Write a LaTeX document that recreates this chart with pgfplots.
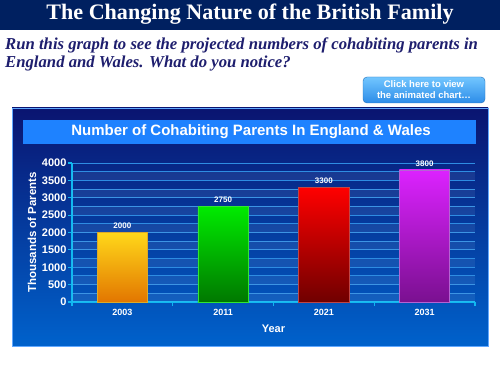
\documentclass[border=0pt]{standalone}
\usepackage{pgfplots}
\pgfplotsset{compat=1.18}
\usepackage{fontspec}
\setmainfont{Liberation Serif}
\setsansfont{Liberation Sans}
\definecolor{navytop}{HTML}{002060}
\definecolor{subcol}{HTML}{1E1E6E}
\definecolor{paneltop}{HTML}{0A1470}
\definecolor{panelbot}{HTML}{0062CC}
\definecolor{inbar}{HTML}{1E82FF}
\definecolor{axcyan}{HTML}{10B8F0}
\definecolor{gridc}{HTML}{2E8CE2}
\definecolor{btntop}{HTML}{72C6FF}
\definecolor{btnbot}{HTML}{2C8CE8}
\begin{document}
\begin{tikzpicture}[x=1pt,y=1pt]
\useasboundingbox (0,0) rectangle (500,375);
\fill[white] (0,0) rectangle (500,375);
% page title bar
\fill[navytop] (0,345) rectangle (500,375);
\node[white,font=\fontsize{22.1}{26}\selectfont\bfseries] at (250,360.5) {The Changing Nature of the British Family};
% subtitle
\node[anchor=north west,inner sep=0pt,align=left,text=subcol,font=\fontsize{16.7}{18.5}\selectfont\bfseries\itshape] at (5,337.5) {Run this graph to see the projected numbers of cohabiting parents in\\England and Wales. What do you notice?};
% button
\shade[top color=btntop,bottom color=btnbot,rounded corners=4pt,draw=btnbot!80!black,line width=0.4pt] (363,272) rectangle (485,298);
\node[white,align=center,font=\sffamily\bfseries\fontsize{9.5}{11}\selectfont] at (424,285) {Click here to view\\the animated chart\dots};
% panel
\shade[top color=paneltop,bottom color=panelbot] (12,29) rectangle (488,267);
\draw[inbar!70!white,line width=0.6pt] (12,29) rectangle (488,267);
\fill[inbar] (23,231) rectangle (476,255);
\node[white,font=\sffamily\bfseries\fontsize{15}{17}\selectfont] at (251,243) {Number of Cohabiting Parents In England \& Wales};
\begin{axis}[
  at={(72pt,73pt)}, anchor=south west,
  width=403pt, height=139pt, scale only axis,
  xmin=-0.5, xmax=3.5, ymin=0, ymax=4000,
  axis lines*=left,
  axis line style={axcyan,line width=1.2pt,-},
  tick align=outside,
  xtick={0,1,2,3},
  xticklabels={2003,2011,2021,2031},
  xtick style={draw=none},
  extra x ticks={-0.5,0.5,1.5,2.5,3.5},
  extra x tick labels={},
  extra x tick style={xtick style={draw=axcyan,line width=1.2pt}},
  ytick={0,500,...,4000},
  ytick style={draw=axcyan,line width=1.2pt},
  major tick length=4pt,
  minor y tick num=1,
  minor tick length=0pt,
  ymajorgrids, yminorgrids,
  major grid style={gridc,line width=0.9pt},
  minor grid style={gridc,line width=0.9pt},
  /pgf/number format/1000 sep={},
  /pgf/number format/assume math mode=true,
  yticklabel style={white,font=\sffamily\bfseries\fontsize{11}{13}\selectfont,xshift=2pt},
  xticklabel style={white,font=\sffamily\bfseries\fontsize{9}{11}\selectfont},
  xlabel={Year},
  ylabel={Thousands of Parents},
  xlabel style={white,font=\sffamily\bfseries\fontsize{11}{13}\selectfont,yshift=6pt},
  ylabel style={white,font=\sffamily\bfseries\fontsize{11.5}{13}\selectfont,yshift=-1pt},
  nodes near coords,
  every node near coord/.append style={white,font=\sffamily\bfseries\fontsize{8}{9}\selectfont},
]
\pgfplotsinvokeforeach{0,...,7}{
  \fill[white,opacity=0.07] (axis cs:-0.5,{#1*500}) rectangle (axis cs:3.5,{#1*500+250});
}
\addplot[ybar,bar width=0.5,bar shift=0pt,top color={rgb,255:red,255;green,216;blue,26},bottom color={rgb,255:red,226;green,118;blue,0},draw={rgb,255:red,220;green,170;blue,40},line width=0.8pt] coordinates {(0,2000)};
\addplot[ybar,bar width=0.5,bar shift=0pt,top color={rgb,255:red,0;green,235;blue,0},bottom color={rgb,255:red,0;green,120;blue,0},draw={rgb,255:red,50;green,230;blue,50},line width=0.8pt] coordinates {(1,2750)};
\addplot[ybar,bar width=0.5,bar shift=0pt,top color={rgb,255:red,255;green,0;blue,0},bottom color={rgb,255:red,112;green,0;blue,0},draw={rgb,255:red,190;green,70;blue,70},line width=0.8pt] coordinates {(2,3300)};
\addplot[ybar,bar width=0.5,bar shift=0pt,top color={rgb,255:red,220;green,34;blue,255},bottom color={rgb,255:red,122;green,16;blue,144},draw={rgb,255:red,180;green,100;blue,210},line width=0.8pt] coordinates {(3,3800)};
\end{axis}
\end{tikzpicture}
\end{document}
